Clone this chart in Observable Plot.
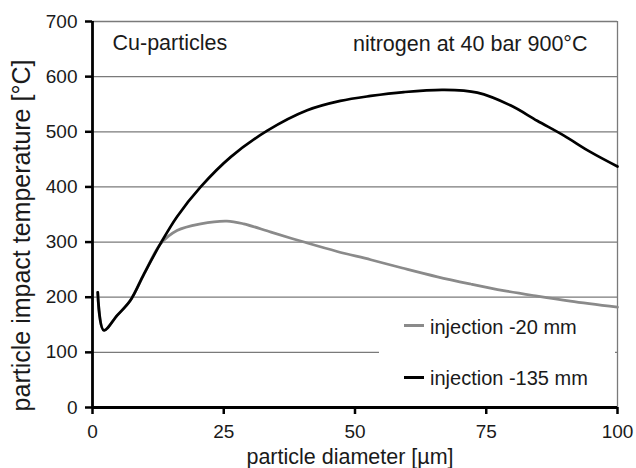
<!DOCTYPE html>
<html>
<head>
<meta charset="utf-8">
<script src="https://cdn.jsdelivr.net/npm/d3@7"></script>
<script src="https://cdn.jsdelivr.net/npm/@observablehq/plot@0.6"></script>
<style>
  html, body { margin: 0; padding: 0; background: #fff; }
  #wrap { position: relative; width: 636px; height: 468px; font-family: "Liberation Sans", Arial, sans-serif; color: #1a1a1a; }
  #legend { position: absolute; left: 379px; top: 312px; width: 236px; height: 90px; background: #fff; }
  .sw { position: absolute; left: 25px; width: 20px; height: 3px; }
  .lt { position: absolute; left: 51px; font-size: 20px; line-height: 20px; white-space: nowrap; }
</style>
</head>
<body>
<div id="wrap"></div>
<script>
// ---- data ----
const seriesNames = ["injection -20 mm", "injection -135 mm"];

const x20 = [1, 2.15, 4.7, 7.2, 9.8, 13, 16.1, 20.6, 25.6, 28.8, 34, 40.3, 46.6, 53, 59, 65.7, 72, 78.3, 84.7, 91, 100];
const y20 = [209, 140, 167, 194, 242, 297, 321, 333, 338, 333, 318, 300, 283, 268, 253, 237, 224, 212, 202, 193, 182];

const x135 = [1, 2.15, 4.7, 7.2, 9.8, 13, 16.1, 20.6, 26.3, 33.3, 40.9, 47.2, 53, 59.3, 66.9, 73.3, 79.6, 84.7, 89.8, 94.9, 100];
const y135 = [209, 140, 167, 194, 242, 298, 346, 400, 454, 502, 539, 556, 565, 572, 576, 571, 548, 520, 493, 463, 437];

const xTicks = [0, 25, 50, 75, 100];
const yTicks = [0, 100, 200, 300, 400, 500, 600, 700];
const gridValues = [100, 200, 300, 400, 500, 600, 700];

const xTitle = "particle diameter [µm]";
const yTitle = "particle impact temperature [°C]";
const note1 = "Cu-particles";
const note2 = "nitrogen at 40 bar 900°C";

// ---- styles ----
const seriesColors = ["#8a8a8a", "#000000"];
const gridColor = "#7a7a7a";
const textColor = "#1a1a1a";

const rows = [
  ...x20.map((x, i) => ({series: seriesNames[0], x, y: y20[i]})),
  ...x135.map((x, i) => ({series: seriesNames[1], x, y: y135[i]}))
];

const chart = Plot.plot({
  width: 636,
  height: 468,
  marginLeft: 92,
  marginRight: 19,
  marginTop: 21,
  marginBottom: 61,
  style: {fontFamily: '"Liberation Sans", Arial, sans-serif', fontSize: "19px", color: textColor, background: "#fff", overflow: "visible"},
  x: {domain: [0, 100], label: null},
  y: {domain: [0, 700], label: null},
  color: {domain: seriesNames, range: seriesColors},
  marks: [
    Plot.ruleY(gridValues, {stroke: gridColor, strokeWidth: 1.3}),
    Plot.ruleX([100], {stroke: gridColor, strokeWidth: 1.3}),
    Plot.line(rows, {x: "x", y: "y", z: "series", stroke: "series", strokeWidth: 2.7, curve: "catmull-rom"}),
    Plot.axisX(xTicks, {tickSize: 7, tickPadding: 10, strokeWidth: 2.5, stroke: "#000", fontSize: 19, fill: textColor}),
    Plot.axisY(yTicks, {tickSize: 7, tickPadding: 8, strokeWidth: 2.5, stroke: "#000", fontSize: 19, fill: textColor}),
    Plot.ruleY([0], {stroke: "#000", strokeWidth: 2.8}),
    Plot.ruleX([0], {stroke: "#000", strokeWidth: 2.8}),
    Plot.text([note1], {frameAnchor: "top-left", text: d => d, dx: 20, dy: 28, lineAnchor: "bottom", textAnchor: "start", fontSize: 21.5, fill: textColor}),
    Plot.text([note2], {frameAnchor: "top-right", text: d => d, dx: -30, dy: 29, lineAnchor: "bottom", textAnchor: "end", fontSize: 21.5, fill: textColor}),
    Plot.text([xTitle], {frameAnchor: "bottom", text: d => d, dx: -5, dy: 56, lineAnchor: "bottom", textAnchor: "middle", fontSize: 21.5, fill: textColor}),
    Plot.text([yTitle], {frameAnchor: "left", text: d => d, dx: -63, dy: 21, rotate: -90, lineAnchor: "bottom", textAnchor: "middle", fontSize: 25, fill: textColor})
  ]
});

const wrap = document.getElementById("wrap");
wrap.appendChild(chart);

// legend built from the same series names and colors
const legend = document.createElement("div");
legend.id = "legend";
const swTops = [12, 64];
const txTops = [5, 56];
seriesNames.forEach((name, i) => {
  const sw = document.createElement("div");
  sw.className = "sw";
  sw.style.top = swTops[i] + "px";
  sw.style.background = seriesColors[i];
  const tx = document.createElement("div");
  tx.className = "lt";
  tx.style.top = txTops[i] + "px";
  tx.textContent = name;
  legend.appendChild(sw);
  legend.appendChild(tx);
});
wrap.appendChild(legend);
</script>
</body>
</html>
